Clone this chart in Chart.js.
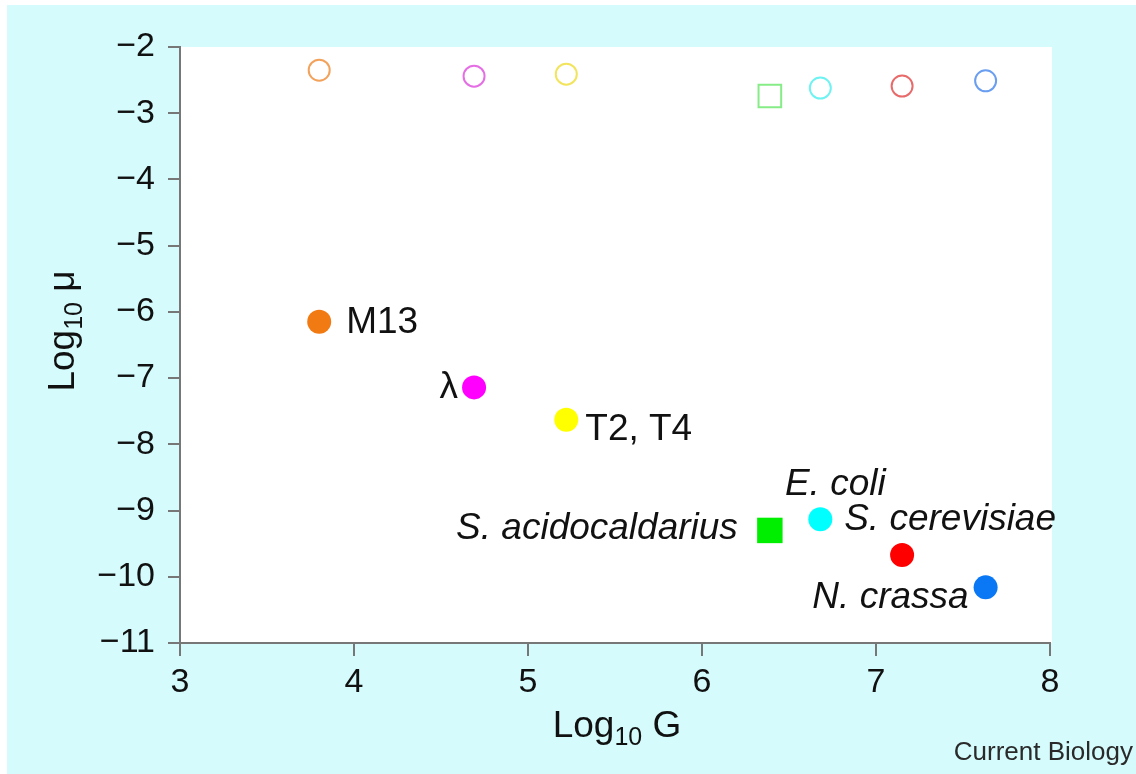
<!DOCTYPE html>
<html>
<head>
<meta charset="utf-8">
<title>Log10 μ vs Log10 G</title>
<script src="https://cdn.jsdelivr.net/npm/chart.js@4/dist/chart.umd.min.js"></script>
<style>
  html, body { margin: 0; padding: 0; background: #fff; }
  #wrap { position: relative; width: 1136px; height: 774px; }
</style>
</head>
<body>
<div id="wrap"><canvas id="chart" width="1136" height="774"></canvas></div>
<script>
// genome size vs mutation rate per base pair, and per genome (open marks)
const species = ["M13", "λ", "T2, T4", "S. acidocaldarius", "E. coli", "S. cerevisiae", "N. crassa"];
const italic  = [false, false, false, true, true, true, true];
const logG    = [3.80, 4.69, 5.22, 6.39, 6.68, 7.15, 7.63];
const logMu   = [-6.15, -7.14, -7.63, -9.30, -9.13, -9.67, -10.16];
const logMuG  = [-2.35, -2.44, -2.41, -2.74, -2.62, -2.59, -2.51];
const xTicks  = [3, 4, 5, 6, 7, 8];
const yTicks  = [-11, -10, -9, -8, -7, -6, -5, -4, -3, -2];

const fill  = ["#f27a12", "#ff00ff", "#ffff00", "#00ee00", "#00ffff", "#ff0000", "#0a78f5"];
const ring  = ["#f3a25c", "#e56ee5", "#f2e45c", "#86ec86", "#6ef2f2", "#e86a6a", "#6a9ef0"];
const shape = ["circle", "circle", "circle", "rect", "circle", "circle", "circle"];

// label placement next to each filled mark: [dx, dy, align]
const labelPos = [
  [27, 1, "left"], [-16, 0, "right"], [19, 10, "left"], [-32, -2, "right"],
  [15, -34, "center"], [48, -35, "center"], [-17, 10, "right"]
];

const FONT = '"Liberation Sans", Arial, Helvetica, sans-serif';
const minus = (v) => (v < 0 ? "\u2212" + Math.abs(v) : String(v));

const backdrop = {
  id: "backdrop",
  beforeDraw(chart) {
    const { ctx, chartArea: a, width, height } = chart;
    ctx.save();
    ctx.fillStyle = "#fff";
    ctx.fillRect(0, 0, width, height);
    ctx.fillStyle = "#d5fbfc";
    ctx.fillRect(7, 5, width - 7, height - 5);
    ctx.fillStyle = "#fff";
    ctx.fillRect(a.left, a.top, a.right - a.left + 2, a.bottom - a.top);
    ctx.restore();
  }
};

const annotate = {
  id: "annotate",
  afterDraw(chart) {
    const { ctx, scales: { x, y }, chartArea: a } = chart;
    ctx.save();
    ctx.fillStyle = "#111";
    ctx.textBaseline = "middle";
    species.forEach((name, i) => {
      const [dx, dy, al] = labelPos[i];
      ctx.font = (italic[i] ? "italic " : "") + "37px " + FONT;
      ctx.textAlign = al;
      ctx.fillText(name, x.getPixelForValue(logG[i]) + dx, y.getPixelForValue(logMu[i]) + dy);
    });

    // axis titles with subscript 10, (cx, cy) is the centre of the baseline
    const title = (cx, cy, rot, rest) => {
      ctx.save();
      ctx.translate(cx, cy);
      ctx.rotate(rot);
      ctx.textBaseline = "alphabetic";
      ctx.textAlign = "left";
      const big = "37px " + FONT, small = "25px " + FONT;
      ctx.font = big; const w1 = ctx.measureText("Log").width;
      ctx.font = small; const w2 = ctx.measureText("10").width;
      ctx.font = big; const w3 = ctx.measureText(rest).width;
      let sx = -(w1 + w2 + w3) / 2;
      ctx.font = big; ctx.fillText("Log", sx, 0); sx += w1;
      ctx.font = small; ctx.fillText("10", sx, 8); sx += w2;
      ctx.font = big; ctx.fillText(rest, sx, 0);
      ctx.restore();
    };
    title((a.left + a.right) / 2 + 2, 737, 0, " G");
    title(74, 331, -Math.PI / 2, " μ");

    ctx.font = "26px " + FONT;
    ctx.fillStyle = "#2a2a2a";
    ctx.textAlign = "right";
    ctx.textBaseline = "alphabetic";
    ctx.fillText("Current Biology", 1133, 760);
    ctx.restore();
  }
};

new Chart(document.getElementById("chart"), {
  type: "scatter",
  data: {
    datasets: [
      {
        label: "Log10 μG",
        data: logG.map((g, i) => ({ x: g, y: logMuG[i] })),
        pointStyle: shape,
        pointRadius: shape.map((s) => (s === "rect" ? 16 : 10.5)),
        pointBackgroundColor: "rgba(255,255,255,0)",
        pointBorderColor: ring,
        pointBorderWidth: 2
      },
      {
        label: "Log10 μ",
        data: logG.map((g, i) => ({ x: g, y: logMu[i] })),
        pointStyle: shape,
        pointRadius: shape.map((s) => (s === "rect" ? 18 : 12)),
        pointBackgroundColor: fill,
        pointBorderWidth: 0
      }
    ]
  },
  options: {
    responsive: false,
    animation: false,
    events: [],
    layout: { padding: { top: 47, right: 86, bottom: 0, left: 0 } },
    plugins: { legend: { display: false }, tooltip: { enabled: false } },
    scales: {
      x: {
        type: "linear",
        min: 3, max: 8,
        afterBuildTicks: (s) => { s.ticks = xTicks.map((v) => ({ value: v })); },
        afterFit: (s) => { s.height = 131; },
        grid: { drawOnChartArea: false, tickLength: 13, color: "#777", lineWidth: 2 },
        border: { color: "#777", width: 2 },
        ticks: { color: "#111", padding: 6, font: { family: FONT, size: 34 }, callback: minus }
      },
      y: {
        type: "linear",
        min: -11, max: -2,
        afterBuildTicks: (s) => { s.ticks = yTicks.map((v) => ({ value: v })); },
        afterFit: (s) => { s.width = 180; },
        grid: { drawOnChartArea: false, tickLength: 12, color: "#777", lineWidth: 2 },
        border: { color: "#777", width: 2 },
        ticks: { color: "#111", padding: 13, font: { family: FONT, size: 34 }, callback: minus }
      }
    }
  },
  plugins: [backdrop, annotate]
});
</script>
</body>
</html>
